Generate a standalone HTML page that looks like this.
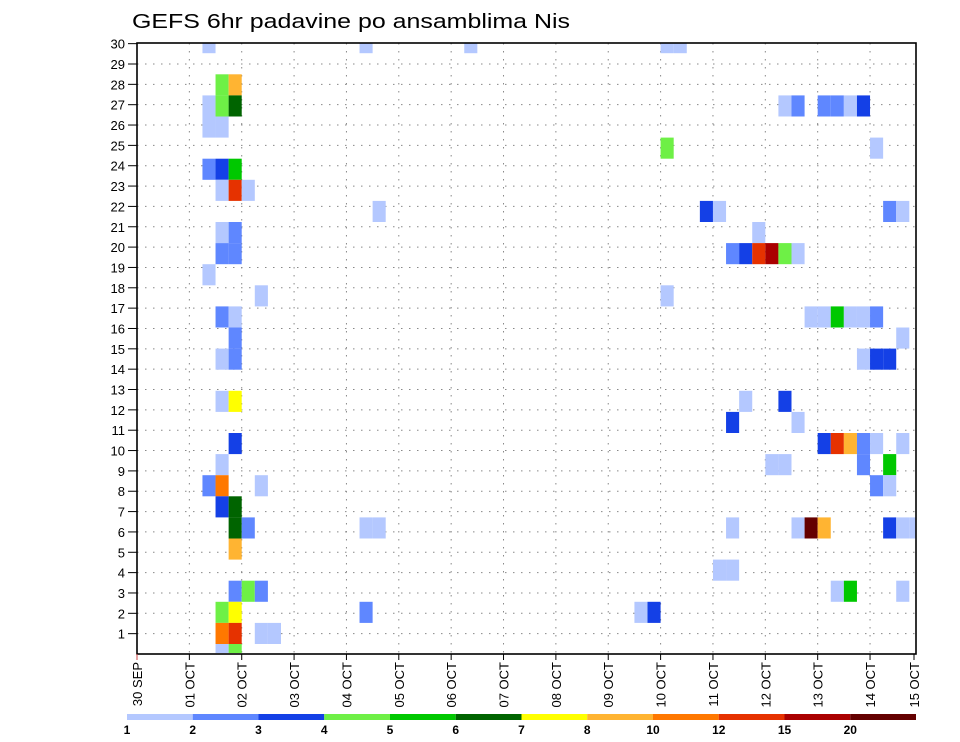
<!DOCTYPE html>
<html><head><meta charset="utf-8"><style>
html,body{margin:0;padding:0;background:#fff}
svg{display:block}
text{font-family:"Liberation Sans",sans-serif;fill:#000}
</style></head><body>
<svg id="chart" width="960" height="742" viewBox="0 0 960 742" xmlns="http://www.w3.org/2000/svg">
<text x="132" y="28" font-size="20" textLength="438" lengthAdjust="spacingAndGlyphs">GEFS 6hr padavine po ansamblima Nis</text>
<g id="grid"></g>
<g id="cells"></g>
<g id="axes"></g>
<g id="cbar"></g>
</svg>
<script>
// ---- data ----
const dayLabels = ["30 SEP","01 OCT","02 OCT","03 OCT","04 OCT","05 OCT","06 OCT","07 OCT","08 OCT","09 OCT","10 OCT","11 OCT","12 OCT","13 OCT","14 OCT","15 OCT"];
const memberTicks = [1,2,3,4,5,6,7,8,9,10,11,12,13,14,15,16,17,18,19,20,21,22,23,24,25,26,27,28,29,30];
const levelColors = ["#b4c8ff","#5f87ff","#1440e6","#6ef046","#00c800","#006400","#ffff00","#ffb432","#ff7800","#e63200","#aa0000","#640000"];
const levelLabels = ["1","2","3","4","5","6","7","8","10","12","15","20"];
// cell member row index, 6-hour step index, precip class (1..12)
const cellMember = [29,29,29,29,29, 27,27, 26,26,26,26,26,26,26,26,26, 25,25, 24,24, 23,23,23, 22,22,22, 21,21,21,21,21, 20,20,20, 19,19,19,19,19,19,19,19, 18, 17,17, 16,16,16,16,16,16,16,16, 15,15, 14,14,14,14,14, 12,12,12,12, 11,11, 10,10,10,10,10,10,10, 9,9,9,9,9, 8,8,8,8,8, 7,7, 6,6,6,6,6,6,6,6,6,6,6, 5, 4,4, 3,3,3,3,3,3, 2,2,2,2,2, 1,1,1,1, 0,0];
const cellStep   = [5,17,25,40,41, 6,7, 5,6,7,49,50,52,53,54,55, 5,6, 40,56, 5,6,7, 6,7,8, 18,43,44,57,58, 6,7,47, 6,7,45,46,47,48,49,50, 5, 9,40, 6,7,51,52,53,54,55,56, 7,58, 6,7,55,56,57, 6,7,46,49, 45,50, 7,52,53,54,55,56,58, 6,48,49,55,57, 5,6,9,56,57, 6,7, 7,8,17,18,45,50,51,52,57,58,59, 7, 44,45, 7,8,9,53,54,58, 6,7,17,38,39, 6,7,9,10, 6,7];
const cellLevel  = [1,1,1,1,1, 4,8, 1,4,6,1,2,2,2,1,3, 1,1, 4,1, 2,3,5, 1,10,1, 1,3,1,2,1, 1,2,1, 2,2,2,3,10,11,4,1, 1, 1,1, 2,1,1,1,5,1,1,2, 2,1, 1,2,1,3,3, 1,7,1,3, 3,1, 3,3,10,8,2,1,1, 1,1,1,2,5, 2,9,1,2,1, 3,6, 6,2,1,1,1,1,12,8,3,1,1, 8, 1,1, 2,4,2,1,5,1, 4,7,2,1,3, 9,10,1,1, 1,4];

// ---- layout ----
const PL=137, PR=916, PT=43, PB=654;
const DAYW=52.36;
const xDay = d => PL + d*DAYW;
const xStep = s => PL + s*DAYW/4;
const yTick = k => PB - k*20.345;
const CELLH = 21.1;
const yCellTop = j => 644 - j*CELLH;
const NS="http://www.w3.org/2000/svg";
function mk(tag, attrs, parent){const e=document.createElementNS(NS,tag);for(const k in attrs)e.setAttribute(k,attrs[k]);parent.appendChild(e);return e;}

const grid=document.getElementById('grid');
memberTicks.forEach(k=>{
  if(k>=30) return;
  const l=mk('line',{x1:PL,x2:PR,y1:yTick(k),y2:yTick(k),stroke:'#888','stroke-width':1,'stroke-dasharray':'1.5 6.5'},grid);
  
  
});
dayLabels.forEach((lab,i)=>{
  if(i===0||xDay(i)>=PR-1) return;
  const l=mk('line',{x1:xDay(i),x2:xDay(i),y1:PT,y2:PB,stroke:'#888','stroke-width':1,'stroke-dasharray':'1.5 6.5'},grid);
  
  
});

const cells=document.getElementById('cells');
for(let i=0;i<cellMember.length;i++){
  const j=cellMember[i], s=cellStep[i], lv=cellLevel[i];
  let y0=Math.max(PT,yCellTop(j)), y1=Math.min(PB-1,yCellTop(j)+CELLH);
  let x0=xStep(s), x1=Math.min(PR,xStep(s+1));
  const r=mk('rect',{x:x0,y:y0,width:x1-x0,height:y1-y0,fill:levelColors[lv-1]},cells);
  
  
}

const axes=document.getElementById('axes');
const frame=mk('rect',{x:PL,y:PT,width:PR-PL,height:PB-PT,fill:'none',stroke:'#000','stroke-width':1.6},axes);


memberTicks.forEach(k=>{
  const y=yTick(k);
  mk('line',{x1:PL-9,x2:PL,y1:y,y2:y,stroke:'#000','stroke-width':1},axes);
  const t=mk('text',{x:PL-12,y:y+5,'font-size':13,'text-anchor':'end'},axes);
  t.textContent=k;
  
  
});
dayLabels.forEach((lab,i)=>{
  let x=xDay(i); if(x>PR) x=PR-2;
  mk('line',{x1:x,x2:x,y1:PB,y2:PB+6,stroke:i===0?'#c44':'#000','stroke-width':1},axes);
  const t=mk('text',{x:0,y:0,'font-size':13,'text-anchor':'end',transform:`translate(${x+5},${PB+8}) rotate(-90)`},axes);
  t.textContent=lab;
  
  
});

const cbar=document.getElementById('cbar');
const CB0=127, CBW=65.75;
levelColors.forEach((c,i)=>{
  const r=mk('rect',{x:CB0+i*CBW,y:714,width:CBW,height:6,fill:c},cbar);
  
  
});
levelLabels.forEach((lab,i)=>{
  const t=mk('text',{x:CB0+i*CBW,y:734,'font-size':12,'font-weight':'bold','text-anchor':'middle'},cbar);
  t.textContent=lab;
  
  
});
</script>
</body></html>
